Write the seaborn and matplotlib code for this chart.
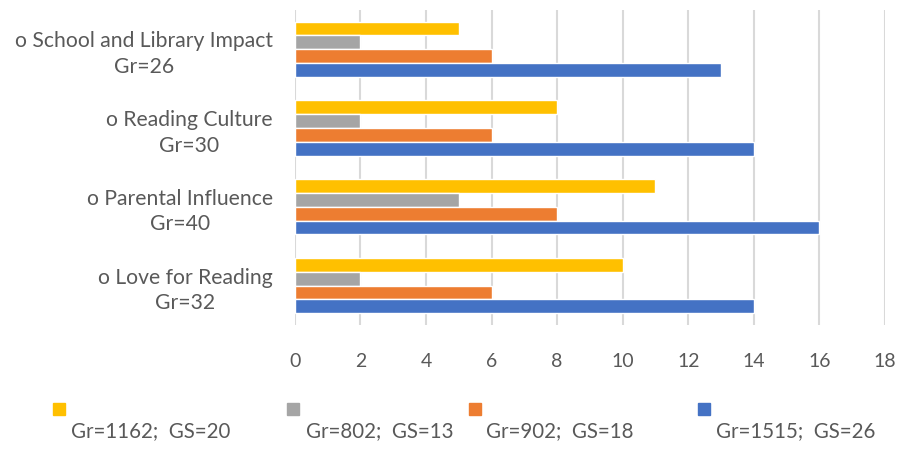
import numpy as np
import pandas as pd
import matplotlib
matplotlib.use('Agg')
import matplotlib.pyplot as plt
import seaborn as sns
from matplotlib.patches import Rectangle


categories = [
    'o School and Library Impact\nGr=26',
    'o Reading Culture\nGr=30',
    'o Parental Influence\nGr=40',
    'o Love for Reading\nGr=32',
]
series_labels = ['Gr=1162;  GS=20', 'Gr=802;  GS=13', 'Gr=902;  GS=18', 'Gr=1515;  GS=26']
yellow_vals = [5, 8, 11, 10]
gray_vals   = [2, 2, 5, 2]
orange_vals = [6, 6, 8, 6]
blue_vals   = [13, 14, 16, 14]
x_ticks = [0, 2, 4, 6, 8, 10, 12, 14, 16, 18]

COLORS = ['#FFC000', '#A5A5A5', '#ED7D31', '#4472C4']
TEXT_COLOR = '#595959'

rows = []
for name, vals in zip(series_labels, [yellow_vals, gray_vals, orange_vals, blue_vals]):
    for cat, v in zip(categories, vals):
        rows.append({'category': cat, 'series': name, 'value': v})
df = pd.DataFrame(rows)

sns.set_style('white')
plt.rcParams['font.family'] = ['Lato', 'DejaVu Sans']

fig = plt.figure(figsize=(9.02, 4.49), dpi=100)
ax = fig.add_axes([0.327, 0.276, 0.654, 0.702])

sns.barplot(
    data=df, y='category', x='value', hue='series',
    order=categories, hue_order=series_labels,
    palette=COLORS, orient='h', width=0.7,
    saturation=1, legend=False, ax=ax, zorder=3
)

ax.set_xlim(0, 18)
ax.set_xticks(x_ticks)
ax.set_xticklabels([str(t) for t in x_ticks], fontsize=14, color=TEXT_COLOR)
ax.tick_params(axis='x', length=0, pad=20)
ax.tick_params(axis='y', length=0, pad=16)
for lbl in ax.get_yticklabels():
    lbl.set_fontsize(15.2)
    lbl.set_color(TEXT_COLOR)
    lbl.set_multialignment('center')
    lbl.set_linespacing(1.35)
ax.set_xlabel('')
ax.set_ylabel('')
ax.grid(axis='x', color='#d9d9d9', linewidth=1.5, zorder=0)
ax.grid(axis='y', visible=False)
for s in ax.spines.values():
    s.set_visible(False)

# legend drawn by hand: square on one row, label under it
sq_x = [53, 287, 469, 698]
txt_x = [71, 306, 486, 716]
for col, sx, tx, lab in zip(COLORS, sq_x, txt_x, series_labels):
    fig.patches.append(Rectangle((sx / 902, 1 - 415 / 449), 12 / 902, 12 / 449,
                                 transform=fig.transFigure, color=col))
    fig.text(tx / 902, 1 - 431 / 449, lab, fontsize=14.8, color=TEXT_COLOR,
             ha='left', va='center')

fig.savefig('out.png', dpi=100)
